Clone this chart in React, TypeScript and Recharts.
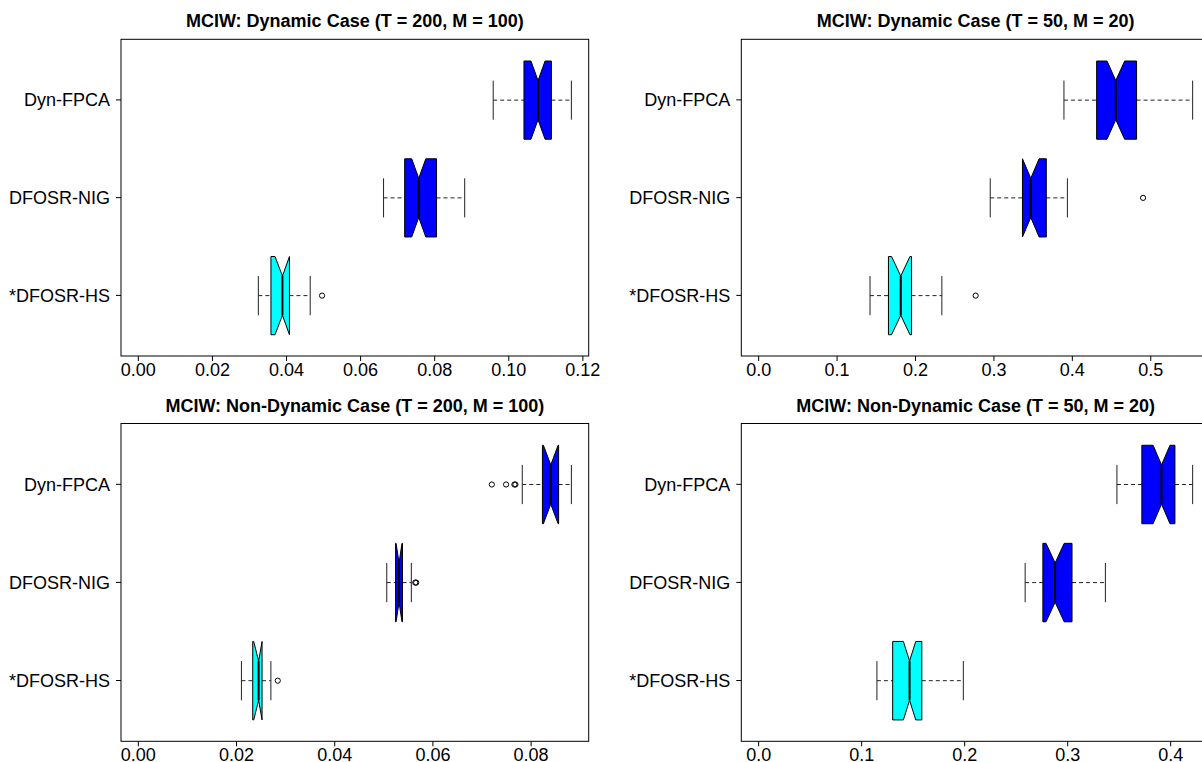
import { ComposedChart, Bar, XAxis, YAxis, ReferenceArea } from 'recharts';

const CATEGORIES = ['Dyn-FPCA', 'DFOSR-NIG', '*DFOSR-HS'];

// Dynamic, T = 200, M = 100
const DYN200_LOWER = [0.0958, 0.0662, 0.0324];
const DYN200_Q1 = [0.1041, 0.0719, 0.0358];
const DYN200_MEDIAN = [0.1079, 0.0757, 0.0389];
const DYN200_Q3 = [0.1115, 0.0805, 0.0408];
const DYN200_UPPER = [0.1169, 0.0881, 0.0464];
const DYN200_NOTCH_LO = [0.106, 0.0738, 0.0369];
const DYN200_NOTCH_HI = [0.1098, 0.0776, 0.0408];
const DYN200_OUTLIERS = [[], [], [0.0496]];
const DYN200_TICKS = [0, 0.02, 0.04, 0.06, 0.08, 0.1, 0.12];

// Dynamic, T = 50, M = 20
const DYN50_LOWER = [0.3893, 0.2953, 0.142];
const DYN50_Q1 = [0.431, 0.3364, 0.1655];
const DYN50_MEDIAN = [0.4554, 0.347, 0.1812];
const DYN50_Q3 = [0.4819, 0.3668, 0.1949];
const DYN50_UPPER = [0.5534, 0.3937, 0.2336];
const DYN50_NOTCH_LO = [0.4442, 0.3364, 0.1695];
const DYN50_NOTCH_HI = [0.4667, 0.3576, 0.1929];
const DYN50_OUTLIERS = [[], [0.4902], [0.2767]];
const DYN50_TICKS = [0, 0.1, 0.2, 0.3, 0.4, 0.5];

// Non-dynamic, T = 200, M = 100
const NON200_LOWER = [0.0782, 0.0506, 0.021];
const NON200_Q1 = [0.0823, 0.0524, 0.0233];
const NON200_MEDIAN = [0.084, 0.0531, 0.0245];
const NON200_Q3 = [0.0856, 0.0538, 0.0252];
const NON200_UPPER = [0.0882, 0.0556, 0.027];
const NON200_NOTCH_LO = [0.0825, 0.0525, 0.0235];
const NON200_NOTCH_HI = [0.0855, 0.0537, 0.0252];
const NON200_OUTLIERS = [[0.072, 0.0749, 0.0766, 0.0768], [0.0564, 0.0566], [0.0284]];
const NON200_TICKS = [0, 0.02, 0.04, 0.06, 0.08];

// Non-dynamic, T = 50, M = 20
const NON50_LOWER = [0.3478, 0.2587, 0.1148];
const NON50_Q1 = [0.372, 0.2759, 0.1301];
const NON50_MEDIAN = [0.3911, 0.2878, 0.1465];
const NON50_Q3 = [0.4041, 0.3042, 0.1584];
const NON50_UPPER = [0.4213, 0.3366, 0.1987];
const NON50_NOTCH_LO = [0.3829, 0.279, 0.1405];
const NON50_NOTCH_HI = [0.3993, 0.2966, 0.1525];
const NON50_OUTLIERS = [[], [], []];
const NON50_TICKS = [0, 0.1, 0.2, 0.3, 0.4];

const FILLS = ['#0000ff', '#0000ff', '#00ffff'];
const FONT = '"Liberation Sans", Arial, Helvetica, sans-serif';

function buildRows(lower, q1, median, q3, upper, nlo, nhi, outliers) {
  return CATEGORIES.map((name, i) => ({
    name,
    lower: lower[i],
    q1: q1[i],
    median: median[i],
    q3: q3[i],
    upper: upper[i],
    notchLo: nlo[i],
    notchHi: nhi[i],
    outliers: outliers[i],
    fill: FILLS[i],
  }));
}

const PANELS = [
  {
    title: 'MCIW: Dynamic Case (T = 200, M = 100)',
    rows: buildRows(DYN200_LOWER, DYN200_Q1, DYN200_MEDIAN, DYN200_Q3, DYN200_UPPER, DYN200_NOTCH_LO, DYN200_NOTCH_HI, DYN200_OUTLIERS),
    ticks: DYN200_TICKS,
    digits: 2,
    left: 0, top: 0, width: 600, height: 386, axisW: 121, marginRight: 11.3, plotTop: 39.3, plotBottom: 356, titleTop: 12,
  },
  {
    title: 'MCIW: Dynamic Case (T = 50, M = 20)',
    rows: buildRows(DYN50_LOWER, DYN50_Q1, DYN50_MEDIAN, DYN50_Q3, DYN50_UPPER, DYN50_NOTCH_LO, DYN50_NOTCH_HI, DYN50_OUTLIERS),
    ticks: DYN50_TICKS,
    digits: 1,
    left: 600, top: 0, width: 620, height: 386, axisW: 141.3, marginRight: 10, plotTop: 39.3, plotBottom: 356, titleTop: 12,
  },
  {
    title: 'MCIW: Non-Dynamic Case (T = 200, M = 100)',
    rows: buildRows(NON200_LOWER, NON200_Q1, NON200_MEDIAN, NON200_Q3, NON200_UPPER, NON200_NOTCH_LO, NON200_NOTCH_HI, NON200_OUTLIERS),
    ticks: NON200_TICKS,
    digits: 2,
    left: 0, top: 380, width: 600, height: 382, axisW: 121, marginRight: 11.3, plotTop: 43.5, plotBottom: 361.3, titleTop: 17,
  },
  {
    title: 'MCIW: Non-Dynamic Case (T = 50, M = 20)',
    rows: buildRows(NON50_LOWER, NON50_Q1, NON50_MEDIAN, NON50_Q3, NON50_UPPER, NON50_NOTCH_LO, NON50_NOTCH_HI, NON50_OUTLIERS),
    ticks: NON50_TICKS,
    digits: 1,
    left: 600, top: 380, width: 620, height: 382, axisW: 141.3, marginRight: 10, plotTop: 43.5, plotBottom: 361.3, titleTop: 17,
  },
];

// box drawn over the range bar [lower, upper]; other stats mapped with the same scale
function NotchedBox(props: any) {
  const { x, y, width, height, payload } = props;
  if (!payload) return null;
  const { lower, upper, q1, median, q3, notchLo, notchHi, outliers, fill } = payload;
  const px = (v: number) => x + ((v - lower) / (upper - lower)) * width;
  const cy = y + height / 2;
  const top = y;
  const bot = y + height;
  const inset = height / 4;
  const staple = height / 4;
  const pts = [
    [px(q1), top], [px(notchLo), top], [px(median), top + inset], [px(notchHi), top], [px(q3), top],
    [px(q3), bot], [px(notchHi), bot], [px(median), bot - inset], [px(notchLo), bot], [px(q1), bot],
  ].map((p) => p.join(',')).join(' ');
  return (
    <g>
      <line x1={px(lower)} x2={px(q1)} y1={cy} y2={cy} stroke="#222" strokeDasharray="4 3" />
      <line x1={px(q3)} x2={px(upper)} y1={cy} y2={cy} stroke="#222" strokeDasharray="4 3" />
      <line x1={px(lower)} x2={px(lower)} y1={cy - staple} y2={cy + staple} stroke="#222" />
      <line x1={px(upper)} x2={px(upper)} y1={cy - staple} y2={cy + staple} stroke="#222" />
      <polygon points={pts} fill={fill} stroke="#000" strokeWidth={1} />
      <line x1={px(median)} x2={px(median)} y1={top + inset} y2={bot - inset} stroke="#000" strokeWidth={2} />
      {outliers.map((o: number, i: number) => (
        <circle key={i} cx={px(o)} cy={cy} r={2.6} fill="none" stroke="#000" strokeWidth={1} />
      ))}
    </g>
  );
}

function Panel({ p }: { p: any }) {
  const maxVal = Math.max(...p.rows.map((r) => Math.max(r.upper, ...r.outliers)));
  const domain = [-0.04 * maxVal, 1.04 * maxVal];
  const plotH = p.plotBottom - p.plotTop;
  const pad = (plotH - (plotH / 3.24) * 3) / 2;
  const boxH = (plotH / 3.24) * 0.8;
  const titleCenter = p.axisW + (p.width - p.marginRight - p.axisW) / 2;
  // frame spans the full plot area, including the category padding
  const Frame = (fp: any) => (
    <rect x={fp.x} y={fp.y - pad} width={fp.width} height={fp.height + 2 * pad} fill="none" stroke="#000" strokeWidth={1} />
  );
  return (
    <div style={{ position: 'absolute', left: p.left, top: p.top, width: p.width, height: p.height }}>
      <div
        style={{
          position: 'absolute',
          left: titleCenter,
          top: p.titleTop,
          transform: 'translateX(-50%)',
          whiteSpace: 'nowrap',
          fontFamily: FONT,
          fontWeight: 'bold',
          fontSize: 18,
          lineHeight: '18px',
          color: '#000',
        }}
      >
        {p.title}
      </div>
      <ComposedChart
        width={p.width}
        height={p.height}
        data={p.rows}
        layout="vertical"
        margin={{ top: p.plotTop, right: p.marginRight, left: 0, bottom: 0 }}
        style={{ position: 'absolute', left: 0, top: 0 }}
      >
        <XAxis
          type="number"
          domain={domain}
          allowDataOverflow
          ticks={p.ticks}
          interval={0}
          height={p.height - p.plotBottom}
          tickSize={5}
          tickMargin={2}
          axisLine={false}
          tickLine={{ stroke: '#000' }}
          tick={{ fontSize: 18, fill: '#000', fontFamily: FONT }}
          tickFormatter={(v: number) => v.toFixed(p.digits)}
        />
        <YAxis
          type="category"
          dataKey="name"
          width={p.axisW}
          interval={0}
          padding={{ top: pad, bottom: pad }}
          tickSize={5}
          tickMargin={6}
          axisLine={false}
          tickLine={{ stroke: '#000' }}
          tick={{ fontSize: 18, fill: '#000', fontFamily: FONT }}
        />
        <ReferenceArea x1={domain[0]} x2={domain[1]} ifOverflow="visible" shape={Frame} />
        <Bar
          dataKey={(d: any) => [d.lower, d.upper]}
          barSize={boxH}
          shape={NotchedBox}
          isAnimationActive={false}
        />
      </ComposedChart>
    </div>
  );
}

export default function App() {
  return (
    <div
      style={{
        position: 'absolute',
        left: 0,
        top: 0,
        width: 1202,
        height: 762,
        overflow: 'hidden',
        background: '#fff',
      }}
    >
      {PANELS.map((p, i) => (
        <Panel key={i} p={p} />
      ))}
    </div>
  );
}
